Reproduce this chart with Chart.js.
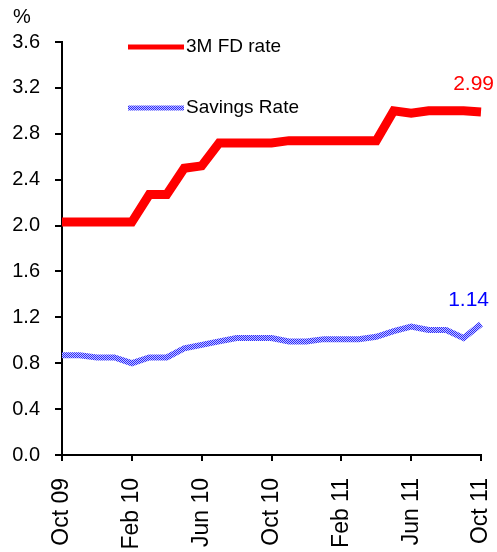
<!DOCTYPE html>
<html>
<head>
<meta charset="utf-8">
<script src="https://cdn.jsdelivr.net/npm/chart.js@4/dist/chart.umd.min.js"></script>
<style>
  html, body { margin: 0; padding: 0; background: #fff; }
  #wrap { width: 497px; height: 552px; position: relative; }
</style>
</head>
<body>
<div id="wrap"><canvas id="rateChart"></canvas></div>
<script>
// monthly, Oct 09 .. Oct 11
const months = ['Oct 09', 'Nov 09', 'Dec 09', 'Jan 10', 'Feb 10', 'Mar 10', 'Apr 10', 'May 10',
  'Jun 10', 'Jul 10', 'Aug 10', 'Sep 10', 'Oct 10', 'Nov 10', 'Dec 10', 'Jan 11', 'Feb 11',
  'Mar 11', 'Apr 11', 'May 11', 'Jun 11', 'Jul 11', 'Aug 11', 'Sep 11', 'Oct 11'];
const fdRate = [2.03, 2.03, 2.03, 2.03, 2.03, 2.27, 2.27, 2.50, 2.52, 2.72, 2.72, 2.72, 2.72,
  2.74, 2.74, 2.74, 2.74, 2.74, 2.74, 3.00, 2.98, 3.00, 3.00, 3.00, 2.99];
const savingsRate = [0.87, 0.87, 0.85, 0.85, 0.80, 0.85, 0.85, 0.93, 0.96, 0.99, 1.02, 1.02, 1.02,
  0.99, 0.99, 1.01, 1.01, 1.01, 1.03, 1.08, 1.12, 1.09, 1.09, 1.02, 1.14];
const yTicks = [0, 0.4, 0.8, 1.2, 1.6, 2.0, 2.4, 2.8, 3.2, 3.6];

const FONT = 'Liberation Sans, Arial, sans-serif';

// checkered blue pattern for the savings line
function makeChecker() {
  const c = document.createElement('canvas');
  c.width = 2; c.height = 2;
  const g = c.getContext('2d');
  g.fillStyle = '#c4c4ff';
  g.fillRect(0, 0, 2, 2);
  g.fillStyle = '#2b2bff';
  g.fillRect(0, 0, 1, 1);
  g.fillRect(1, 1, 1, 1);
  return g.createPattern(c, 'repeat');
}
const checker = makeChecker();

const extras = {
  id: 'extras',
  afterDraw(chart) {
    const ctx = chart.ctx;
    ctx.save();
    ctx.font = '20px ' + FONT;
    ctx.fillStyle = '#000';
    ctx.textAlign = 'center';
    ctx.textBaseline = 'middle';
    ctx.fillText('%', 22, 17);

    // legend inside plot
    ctx.lineWidth = 5;
    ctx.strokeStyle = '#ff0000';
    ctx.beginPath(); ctx.moveTo(128, 47); ctx.lineTo(184, 47); ctx.stroke();
    ctx.strokeStyle = checker;
    ctx.beginPath(); ctx.moveTo(128, 108); ctx.lineTo(184, 108); ctx.stroke();
    ctx.font = '19px ' + FONT;
    ctx.textAlign = 'left';
    ctx.fillText('3M FD rate', 186, 47);
    ctx.fillText('Savings Rate', 186, 108);

    // end value labels
    ctx.font = '21px ' + FONT;
    ctx.textAlign = 'right';
    const p0 = chart.getDatasetMeta(0).data[fdRate.length - 1];
    const p1 = chart.getDatasetMeta(1).data[savingsRate.length - 1];
    ctx.fillStyle = '#ff0000';
    ctx.fillText(fdRate[fdRate.length - 1].toFixed(2), 494, p0.y - 28);
    ctx.fillStyle = '#0000ff';
    ctx.fillText(savingsRate[savingsRate.length - 1].toFixed(2), 489, p1.y - 24);
    ctx.restore();
  }
};

new Chart(document.getElementById('rateChart'), {
  type: 'line',
  data: {
    labels: months,
    datasets: [{
      label: '3M FD rate',
      data: fdRate,
      borderColor: '#ff0000',
      borderWidth: 9,
      pointRadius: 0,
      tension: 0,
      borderJoinStyle: 'miter'
    }, {
      label: 'Savings Rate',
      data: savingsRate,
      borderColor: checker,
      borderWidth: 6,
      pointRadius: 0,
      tension: 0
    }]
  },
  options: {
    responsive: true,
    maintainAspectRatio: false,
    animation: false,
    layout: { padding: { top: 42, right: 16, left: 0, bottom: 0 } },
    plugins: {
      legend: { display: false },
      tooltip: { enabled: false }
    },
    scales: {
      x: {
        offset: false,
        afterFit(scale) {
          scale.height = 97;
          scale.paddingLeft = 0;
          scale.paddingRight = 0;
        },
        border: { color: '#000', width: 2 },
        grid: { drawOnChartArea: false, drawTicks: true, tickLength: 6, color: '#000', lineWidth: 2 },
        ticks: {
          autoSkip: false,
          minRotation: 90,
          maxRotation: 90,
          padding: 17,
          color: '#000',
          font: { family: FONT, size: 23 },
          callback(val, i) { return i % 4 === 0 ? months[i] : null; }
        }
      },
      y: {
        min: 0,
        max: 3.6,
        afterFit(scale) {
          scale.width = 62;
          scale.paddingTop = 0;
          scale.paddingBottom = 0;
        },
        afterBuildTicks(scale) { scale.ticks = yTicks.map(v => ({ value: v })); },
        border: { color: '#000', width: 2 },
        grid: { drawOnChartArea: false, drawTicks: true, tickLength: 7, color: '#000', lineWidth: 2 },
        ticks: {
          padding: 15,
          color: '#000',
          font: { family: FONT, size: 20 },
          callback(v) { return v.toFixed(1); }
        }
      }
    }
  },
  plugins: [extras]
});
</script>
</body>
</html>
